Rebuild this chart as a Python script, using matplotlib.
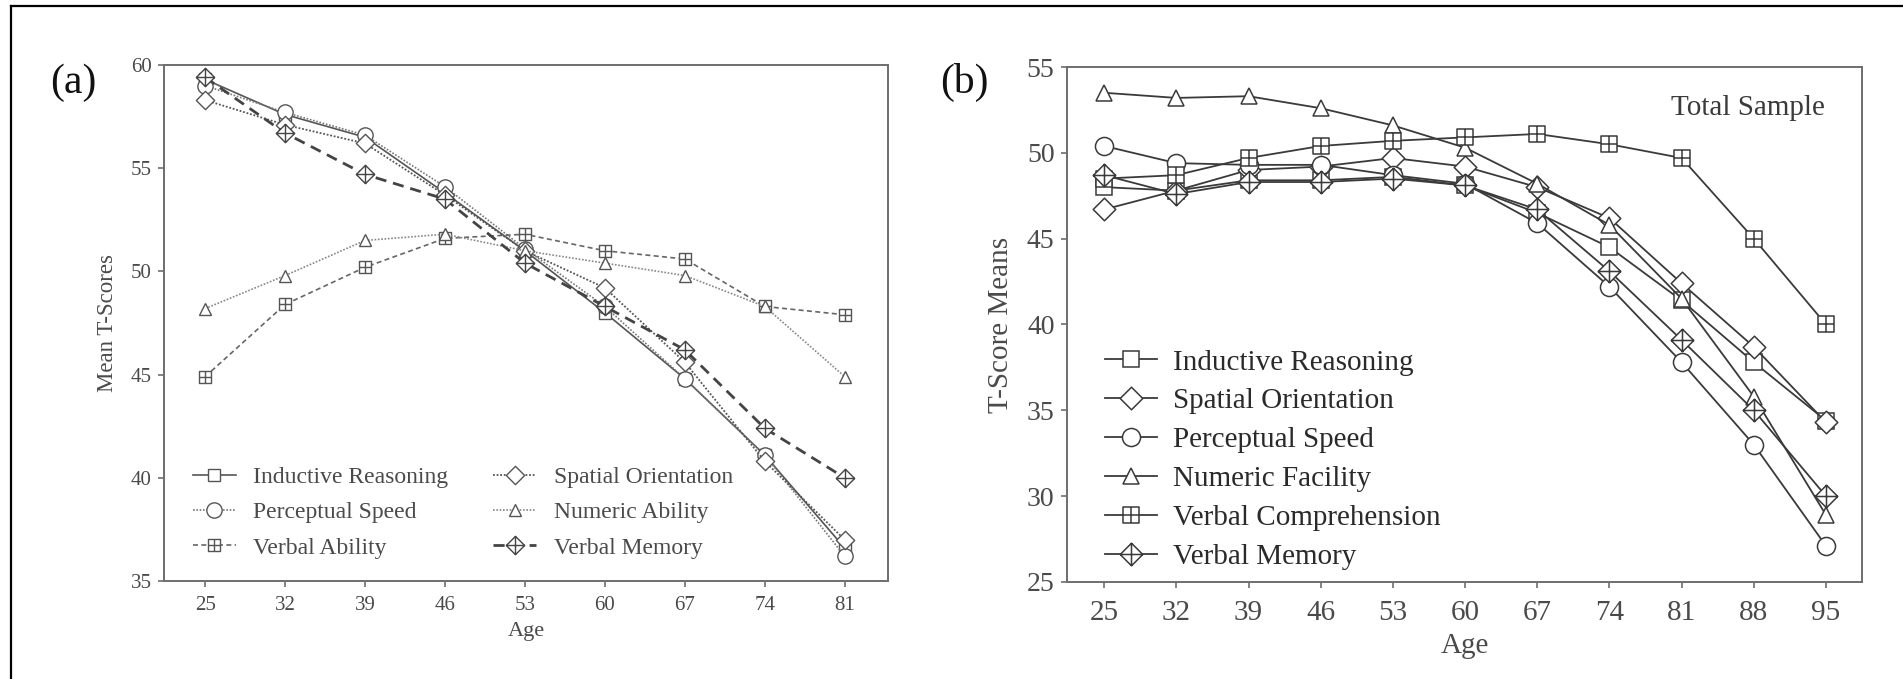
import matplotlib
matplotlib.use("Agg")
import matplotlib.pyplot as plt
from matplotlib.path import Path
from matplotlib.lines import Line2D

plt.rcParams['font.family'] = ['Liberation Serif', 'DejaVu Serif']

# ---------------- data ----------------
ages_a = [25, 32, 39, 46, 53, 60, 67, 74, 81]
inductive_a = [59.3, 57.6, 56.5, 53.8, 51.0, 48.0, 44.8, 41.1, 36.6]
perceptual_a = [59.0, 57.7, 56.6, 54.1, 51.1, 48.3, 44.8, 41.1, 36.2]
spatial_a = [58.3, 57.1, 56.2, 53.7, 51.0, 49.2, 45.6, 40.8, 37.0]
numeric_a = [48.2, 49.8, 51.5, 51.8, 51.0, 50.4, 49.8, 48.3, 44.9]
verbal_ability_a = [44.9, 48.4, 50.2, 51.6, 51.8, 51.0, 50.6, 48.3, 47.9]
verbal_memory_a = [59.4, 56.7, 54.7, 53.5, 50.4, 48.3, 46.2, 42.4, 40.0]

ages_b = [25, 32, 39, 46, 53, 60, 67, 74, 81, 88, 95]
inductive_b = [48.0, 47.8, 48.4, 48.4, 48.6, 48.1, 46.5, 44.5, 41.4, 37.8, 34.4]
spatial_b = [46.7, 47.8, 49.0, 49.2, 49.7, 49.2, 48.0, 46.2, 42.4, 38.7, 34.3]
perceptual_b = [50.4, 49.4, 49.3, 49.3, 48.7, 48.2, 45.9, 42.2, 37.8, 33.0, 27.1]
numeric_b = [53.5, 53.2, 53.3, 52.6, 51.6, 50.3, 48.2, 45.8, 41.5, 35.8, 28.9]
verbal_comp_b = [48.5, 48.7, 49.7, 50.4, 50.7, 50.9, 51.1, 50.5, 49.7, 45.0, 40.0]
verbal_mem_b = [48.7, 47.6, 48.3, 48.3, 48.5, 48.1, 46.7, 43.1, 39.1, 35.0, 30.0]

# ---------------- custom markers ----------------
M, L, C = Path.MOVETO, Path.LINETO, Path.CLOSEPOLY
box_plus = Path(
    [(-1, -1), (1, -1), (1, 1), (-1, 1), (-1, -1),
     (0, -1), (0, 1), (-1, 0), (1, 0)],
    [M, L, L, L, C, M, L, M, L])
diamond = Path(
    [(0, -1), (1, 0), (0, 1), (-1, 0), (0, -1)],
    [M, L, L, L, C])
diamond_plus = Path(
    [(0, -1), (1, 0), (0, 1), (-1, 0), (0, -1),
     (0, -1), (0, 1), (-1, 0), (1, 0)],
    [M, L, L, L, C, M, L, M, L])

fig = plt.figure(figsize=(19.03, 6.79), dpi=100)
fig.patch.set_facecolor('white')

# thin frame lines at the top and left edge of the figure
fig.add_artist(Line2D([0.006, 1.0], [0.9915, 0.9915], color='black', lw=1.6,
                      transform=fig.transFigure))
fig.add_artist(Line2D([0.006, 0.006], [0.0, 0.9915], color='black', lw=1.6,
                      transform=fig.transFigure))

spine_col = '#6e6e6e'
tick_col = '#4a4a4a'


def style_axes(ax, xt_size, yt_size, xpad, ypad):
    for s in ax.spines.values():
        s.set_color(spine_col)
        s.set_linewidth(1.4)
    ax.tick_params(direction='out', length=4, width=1.2, color=spine_col,
                   labelcolor=tick_col)
    ax.tick_params(axis='x', labelsize=xt_size, pad=xpad)
    ax.tick_params(axis='y', labelsize=yt_size, pad=ypad)


# ---------------- panel (a) ----------------
axa = fig.add_axes([0.0862, 0.1443, 0.3805, 0.7600])
ca = '#555555'
ms_a = 11
kw = dict(markerfacecolor='white', markeredgewidth=1.0)
axa.plot(ages_a, inductive_a, color=ca, lw=1.2, ls='-', marker='s',
         markersize=ms_a * 0.85, markeredgecolor=ca, label='Inductive Reasoning', **kw)
axa.plot(ages_a, perceptual_a, color='#777777', lw=1.2, ls=(0, (1, 1)), marker='o',
         markersize=ms_a, markeredgecolor=ca, label='Perceptual Speed', **kw)
axa.plot(ages_a, verbal_ability_a, color='#666666', lw=1.2, ls=(0, (3, 2)), marker=box_plus,
         markersize=ms_a * 0.85, markeredgecolor=ca, label='Verbal Ability', **kw)
axa.plot(ages_a, spatial_a, color='#555555', lw=1.3, ls=(0, (1, 1)), marker=diamond,
         markersize=ms_a * 1.2, markeredgecolor=ca, label='Spatial Orientation', **kw)
axa.plot(ages_a, numeric_a, color='#888888', lw=1.2, ls=(0, (1, 1)), marker='^',
         markersize=ms_a * 0.85, markeredgecolor=ca, label='Numeric Ability', **kw)
axa.plot(ages_a, verbal_memory_a, color='#444444', lw=2.0, ls=(0, (4, 2.5)), marker=diamond_plus,
         markersize=ms_a * 1.2, markeredgecolor='#444444', label='Verbal Memory', **kw)

axa.set_xlim(21.4, 84.8)
axa.set_ylim(35, 60)
axa.set_xticks(ages_a)
axa.set_yticks([35, 40, 45, 50, 55, 60])
style_axes(axa, 15, 15, 7, 5)
axa.set_xlabel('Age', fontsize=16, color=tick_col, labelpad=5)
axa.set_ylabel('Mean T-Scores', fontsize=16.5, color=tick_col, labelpad=9)
axa.legend(loc='lower left', ncol=2, frameon=False, fontsize=17,
           handlelength=1.8, handletextpad=0.76, columnspacing=1.9,
           labelspacing=0.58, borderaxespad=0.0, bbox_to_anchor=(0.027, 0.025),
           labelcolor=tick_col)

# ---------------- panel (b) ----------------
axb = fig.add_axes([0.5607, 0.1429, 0.4178, 0.7584])
cb = '#3a3a3a'
ms_b = 13
kwb = dict(color=cb, lw=1.3, ls='-', markerfacecolor='white',
           markeredgecolor=cb, markeredgewidth=1.1)
axb.plot(ages_b, inductive_b, marker='s', markersize=ms_b * 0.85,
         label='Inductive Reasoning', **kwb)
axb.plot(ages_b, spatial_b, marker=diamond, markersize=ms_b * 1.25,
         label='Spatial Orientation', **kwb)
axb.plot(ages_b, perceptual_b, marker='o', markersize=ms_b,
         label='Perceptual Speed', **kwb)
axb.plot(ages_b, numeric_b, marker='^', markersize=ms_b * 0.85,
         label='Numeric Facility', **kwb)
axb.plot(ages_b, verbal_comp_b, marker=box_plus, markersize=ms_b * 0.85,
         label='Verbal Comprehension', **kwb)
axb.plot(ages_b, verbal_mem_b, marker=diamond_plus, markersize=ms_b * 1.25,
         label='Verbal Memory', **kwb)

axb.set_xlim(21.4, 98.5)
axb.set_ylim(25, 55)
axb.set_xticks(ages_b)
axb.set_yticks([25, 30, 35, 40, 45, 50, 55])
style_axes(axb, 21, 20, 9, 5)
axb.set_xlabel('Age', fontsize=21, color=tick_col, labelpad=5)
axb.set_ylabel('T-Score Means', fontsize=21, color=tick_col, labelpad=9)
axb.legend(loc='lower left', ncol=1, frameon=False, fontsize=21,
           handlelength=1.8, handletextpad=0.55, labelspacing=0.43,
           borderaxespad=0.0, bbox_to_anchor=(0.033, 0.0),
           labelcolor='#2a2a2a')
axb.text(0.857, 0.92, 'Total Sample', transform=axb.transAxes, fontsize=21,
         color='#3a3a3a', ha='center', va='center')

# panel letters
fig.text(0.0384, 0.878, '(a)', fontsize=30, color='#111111', ha='center', va='center')
fig.text(0.507, 0.878, '(b)', fontsize=30, color='#111111', ha='center', va='center')

fig.savefig('out.png', dpi=100, facecolor='white')
